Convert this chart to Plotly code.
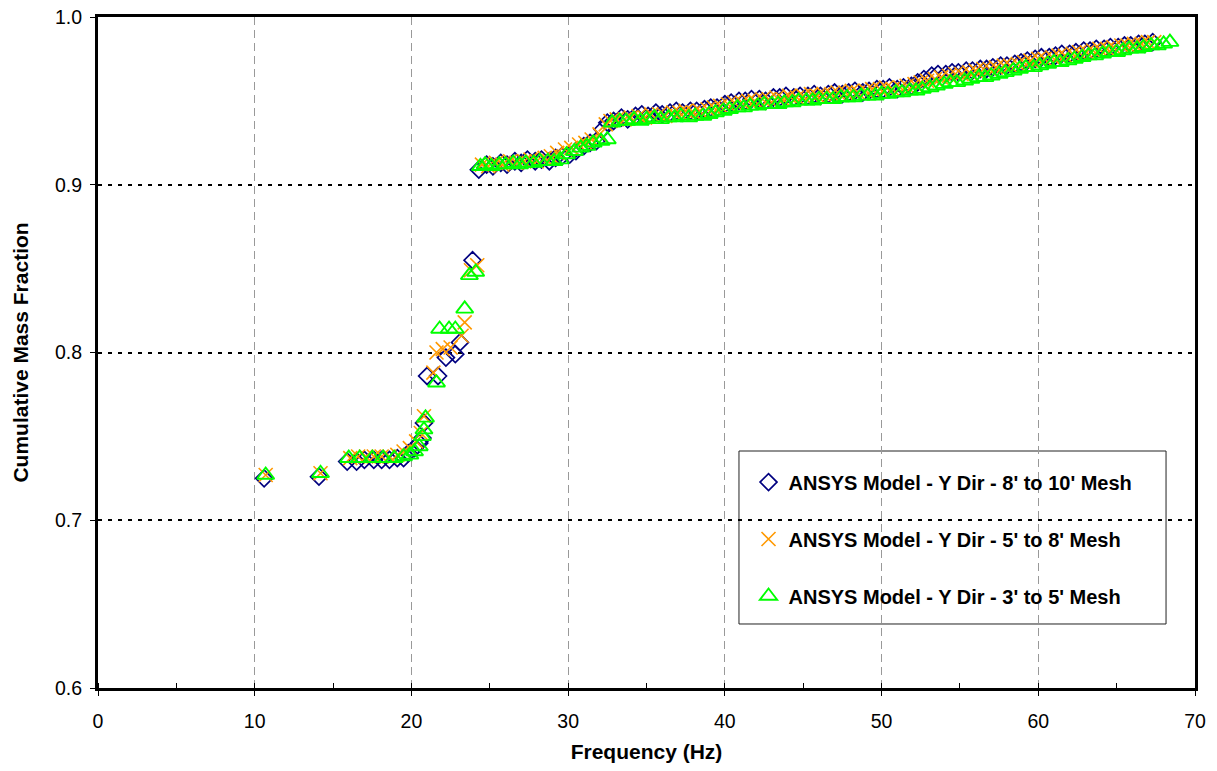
import plotly.graph_objects as go

# ---------------- data ----------------
series_names = [
    "ANSYS Model - Y Dir - 8' to 10' Mesh",
    "ANSYS Model - Y Dir - 5' to 8' Mesh",
    "ANSYS Model - Y Dir - 3' to 5' Mesh",
]

# 8' to 10' mesh (diamonds)
a_freq = [
    10.6, 14.1, 15.9, 16.5, 17.0, 17.6, 18.1, 18.6, 19.1, 19.5,
    19.8, 20.2, 20.5, 20.7, 20.8, 21.0, 21.7, 22.2, 22.8, 23.1,
    23.9,
    24.3, 24.8, 25.2, 25.7, 26.1, 26.6, 27.0, 27.4, 27.9, 28.3,
    28.8, 29.2, 29.6, 30.1, 30.5, 31.0, 31.4, 31.8, 32.2, 32.5,
    32.9, 33.4, 33.8, 34.3, 34.7, 35.1, 35.6, 36.0, 36.5, 36.9,
    37.3, 37.8, 38.2, 38.7, 39.1, 39.5, 40.0, 40.4, 40.9, 41.3,
    41.7, 42.2, 42.6, 43.1, 43.5, 43.9, 44.4, 44.8, 45.3, 45.7,
    46.1, 46.6, 47.0, 47.5, 47.9, 48.3, 48.8, 49.2, 49.7, 50.1,
    50.5, 51.0, 51.4, 51.9, 52.3, 52.7, 53.2, 53.6, 54.1, 54.5,
    54.9, 55.4, 55.8, 56.3, 56.7, 57.1, 57.6, 58.0, 58.5, 58.9,
    59.3, 59.8, 60.2, 60.7, 61.1, 61.5, 62.0, 62.4, 62.9, 63.3,
    63.7, 64.2, 64.6, 65.1, 65.5, 65.9, 66.4, 66.8, 67.3,
]
a_frac = [
    0.725, 0.726, 0.735, 0.735, 0.736, 0.736, 0.736, 0.736, 0.737, 0.737,
    0.740, 0.743, 0.746, 0.749, 0.758, 0.786, 0.786, 0.797, 0.799, 0.806,
    0.855,
    0.909, 0.912, 0.911, 0.913, 0.912, 0.914, 0.913, 0.915, 0.914, 0.915,
    0.914, 0.916, 0.917, 0.918, 0.920, 0.923, 0.925, 0.926, 0.933, 0.937,
    0.938, 0.940, 0.939, 0.941, 0.942, 0.941, 0.943, 0.942, 0.943, 0.944,
    0.943, 0.944, 0.944, 0.945, 0.946, 0.946, 0.948, 0.949, 0.950, 0.950,
    0.951, 0.951, 0.950, 0.952, 0.952, 0.953, 0.952, 0.953, 0.953, 0.954,
    0.953, 0.954, 0.955, 0.954, 0.955, 0.956, 0.955, 0.956, 0.957, 0.957,
    0.958, 0.957, 0.958, 0.959, 0.961, 0.963, 0.965, 0.966, 0.966, 0.967,
    0.967, 0.968, 0.968, 0.969, 0.969, 0.970, 0.971, 0.971, 0.972, 0.973,
    0.974, 0.975, 0.976, 0.976, 0.977, 0.978, 0.978, 0.979, 0.980, 0.980,
    0.981, 0.981, 0.982, 0.982, 0.983, 0.983, 0.984, 0.984, 0.985,
]

# 5' to 8' mesh (crosses)
b_freq = [
    10.7, 14.2, 16.1, 16.6, 17.1, 17.6, 18.1, 18.6, 19.1, 19.5,
    19.9, 20.3, 20.6, 20.8, 21.4, 21.6, 22.0, 22.5, 23.2, 23.4,
    23.8, 24.2,
    24.5, 24.9, 25.4, 25.8, 26.3, 26.7, 27.2, 27.6, 28.0, 28.5,
    28.9, 29.3, 29.8, 30.2, 30.7, 31.1, 31.5, 32.0, 32.4, 32.7,
    33.1, 33.6, 34.0, 34.5, 34.9, 35.3, 35.8, 36.2, 36.7, 37.1,
    37.5, 38.0, 38.4, 38.9, 39.3, 39.7, 40.2, 40.6, 41.1, 41.5,
    41.9, 42.4, 42.8, 43.3, 43.7, 44.1, 44.6, 45.0, 45.5, 45.9,
    46.3, 46.8, 47.2, 47.7, 48.1, 48.5, 49.0, 49.4, 49.9, 50.3,
    50.7, 51.2, 51.6, 52.1, 52.5, 52.9, 53.4, 53.8, 54.3, 54.7,
    55.1, 55.6, 56.0, 56.5, 56.9, 57.3, 57.8, 58.2, 58.7, 59.1,
    59.5, 60.0, 60.4, 60.9, 61.3, 61.7, 62.2, 62.6, 63.1, 63.5,
    63.9, 64.4, 64.8, 65.3, 65.7, 66.1, 66.6, 67.0, 67.4,
]
b_frac = [
    0.727, 0.728, 0.737, 0.738, 0.738, 0.738, 0.738, 0.738, 0.739, 0.741,
    0.743, 0.747, 0.752, 0.762, 0.788, 0.800, 0.802, 0.803, 0.810, 0.818,
    0.849, 0.852,
    0.912, 0.911, 0.913, 0.912, 0.914, 0.913, 0.914, 0.915, 0.914, 0.916,
    0.917, 0.919, 0.921, 0.922, 0.924, 0.925, 0.927, 0.930, 0.936, 0.938,
    0.939, 0.939, 0.940, 0.941, 0.940, 0.942, 0.942, 0.941, 0.943, 0.943,
    0.944, 0.943, 0.944, 0.945, 0.946, 0.947, 0.948, 0.949, 0.949, 0.950,
    0.950, 0.951, 0.951, 0.952, 0.951, 0.953, 0.952, 0.953, 0.954, 0.953,
    0.954, 0.954, 0.955, 0.955, 0.956, 0.955, 0.956, 0.957, 0.957, 0.958,
    0.957, 0.958, 0.959, 0.960, 0.961, 0.962, 0.963, 0.964, 0.965, 0.966,
    0.966, 0.967, 0.968, 0.969, 0.969, 0.970, 0.971, 0.971, 0.972, 0.973,
    0.974, 0.975, 0.975, 0.976, 0.977, 0.977, 0.978, 0.979, 0.979, 0.980,
    0.981, 0.981, 0.982, 0.983, 0.983, 0.984, 0.984, 0.985, 0.985,
]

# 3' to 5' mesh (triangles)
c_freq = [
    10.7, 14.2, 16.0, 16.7, 17.5, 18.2, 18.9, 19.5, 19.9, 20.2,
    20.5, 20.7, 20.8, 20.9, 21.6, 21.8, 22.4, 22.8, 23.4, 23.7,
    24.1,
    24.4, 24.7, 25.1, 25.6, 26.0, 26.5, 26.9, 27.3, 27.8, 28.2,
    28.7, 29.1, 29.5, 29.9, 30.4, 30.8, 31.2, 31.6, 32.1, 32.5,
    32.8, 33.3, 33.7, 34.2, 34.6, 35.0, 35.5, 35.9, 36.4, 36.8,
    37.2, 37.7, 38.1, 38.6, 39.0, 39.4, 39.9, 40.3, 40.8, 41.2,
    41.6, 42.1, 42.5, 43.0, 43.4, 43.8, 44.3, 44.7, 45.2, 45.6,
    46.0, 46.5, 46.9, 47.4, 47.8, 48.2, 48.7, 49.1, 49.6, 50.0,
    50.4, 50.9, 51.3, 51.8, 52.2, 52.6, 53.1, 53.5, 54.0, 54.4,
    54.8, 55.3, 55.7, 56.2, 56.6, 57.0, 57.5, 57.9, 58.4, 58.8,
    59.2, 59.7, 60.1, 60.6, 61.0, 61.4, 61.9, 62.3, 62.8, 63.2,
    63.6, 64.1, 64.5, 65.0, 65.4, 65.8, 66.3, 66.7, 67.2, 67.6,
    68.0, 68.4,
]
c_frac = [
    0.727, 0.728, 0.737, 0.737, 0.737, 0.737, 0.737, 0.738, 0.739, 0.741,
    0.744, 0.750, 0.754, 0.761, 0.782, 0.814, 0.814, 0.814, 0.826, 0.846,
    0.848,
    0.911, 0.912, 0.911, 0.912, 0.912, 0.913, 0.912, 0.913, 0.913, 0.914,
    0.914, 0.914, 0.915, 0.918, 0.920, 0.922, 0.923, 0.925, 0.926, 0.927,
    0.937, 0.938, 0.938, 0.939, 0.938, 0.939, 0.940, 0.939, 0.940, 0.940,
    0.941, 0.940, 0.941, 0.941, 0.942, 0.943, 0.944, 0.945, 0.946, 0.946,
    0.947, 0.947, 0.948, 0.948, 0.948, 0.949, 0.949, 0.950, 0.950, 0.950,
    0.951, 0.951, 0.951, 0.952, 0.952, 0.952, 0.953, 0.953, 0.953, 0.954,
    0.954, 0.955, 0.955, 0.956, 0.956, 0.957, 0.958, 0.959, 0.960, 0.961,
    0.961, 0.962, 0.963, 0.964, 0.964, 0.965, 0.966, 0.967, 0.968, 0.969,
    0.970, 0.970, 0.971, 0.972, 0.973, 0.973, 0.974, 0.975, 0.976, 0.977,
    0.977, 0.978, 0.979, 0.979, 0.980, 0.981, 0.981, 0.982, 0.983, 0.983,
    0.984, 0.985,
]

x_ticks = [0, 10, 20, 30, 40, 50, 60, 70]
y_ticks = [0.6, 0.7, 0.8, 0.9, 1.0]

# ---------------- figure ----------------
FONT = "Arial, 'Liberation Sans', sans-serif"

fig = go.Figure()

fig.add_trace(go.Scatter(
    x=a_freq, y=a_frac, mode="markers", name=series_names[0], legendgroup="a",
    marker=dict(symbol="diamond-open", size=13, color="#000080",
                line=dict(color="#000080", width=1.7)),
))
fig.add_trace(go.Scatter(
    x=b_freq, y=b_frac, mode="markers", name=series_names[1], legendgroup="b",
    marker=dict(symbol="x-thin-open", size=14, color="#FF9900",
                line=dict(color="#FF9900", width=1.6)),
))
fig.add_trace(go.Scatter(
    x=c_freq, y=c_frac, mode="markers", name=series_names[2], legendgroup="c",
    marker=dict(symbol="triangle-up-open", size=15, color="#00FF00",
                line=dict(color="#00FF00", width=1.9)),
))

# legend frame
fig.add_shape(type="rect", xref="paper", yref="paper",
              x0=0.5843, x1=0.9736, y0=0.0954, y1=0.3532,
              line=dict(color="#222222", width=1), fillcolor="white", layer="below")

fig.update_layout(
    width=1217, height=771,
    margin=dict(l=98, r=22, t=17, b=83, autoexpand=False),
    paper_bgcolor="white", plot_bgcolor="white",
    font=dict(family=FONT, size=19.5, color="black"),
    showlegend=True,
    legend=dict(
        x=0.593, y=0.336, xanchor="left", yanchor="top",
        bgcolor="rgba(0,0,0,0)", borderwidth=0,
        font=dict(family=FONT, size=20, color="black", weight="bold"),
        tracegroupgap=28, traceorder="grouped",
    ),
    xaxis=dict(
        range=[0, 70], tickvals=x_ticks, ticks="outside", ticklen=5,
        tickwidth=1, tickcolor="black", ticklabelstandoff=9,
        showline=True, linewidth=3, linecolor="black", mirror=True,
        showgrid=True, gridcolor="#999999", gridwidth=1, griddash="8px,5px",
        zeroline=False,
        minor=dict(dtick=5, ticks="inside", ticklen=5, tickwidth=1,
                   tickcolor="black", showgrid=False),
        title=dict(text="<b>Frequency (Hz)</b>", standoff=13,
                   font=dict(family=FONT, size=21, color="black")),
        tickfont=dict(family=FONT, size=19.5, color="black"),
    ),
    yaxis=dict(
        range=[0.6, 1.0], tickvals=y_ticks, tickformat=".1f", ticks="outside",
        ticklen=5, tickwidth=1, tickcolor="black", ticklabelstandoff=4,
        showline=True, linewidth=3, linecolor="black", mirror=True,
        showgrid=True, gridcolor="black", gridwidth=2, griddash="4px,6px",
        zeroline=False,
        title=dict(text="<b>Cumulative Mass Fraction</b>", standoff=21,
                   font=dict(family=FONT, size=21, color="black")),
        tickfont=dict(family=FONT, size=19.5, color="black"),
    ),
)

fig.write_html("out.html")
